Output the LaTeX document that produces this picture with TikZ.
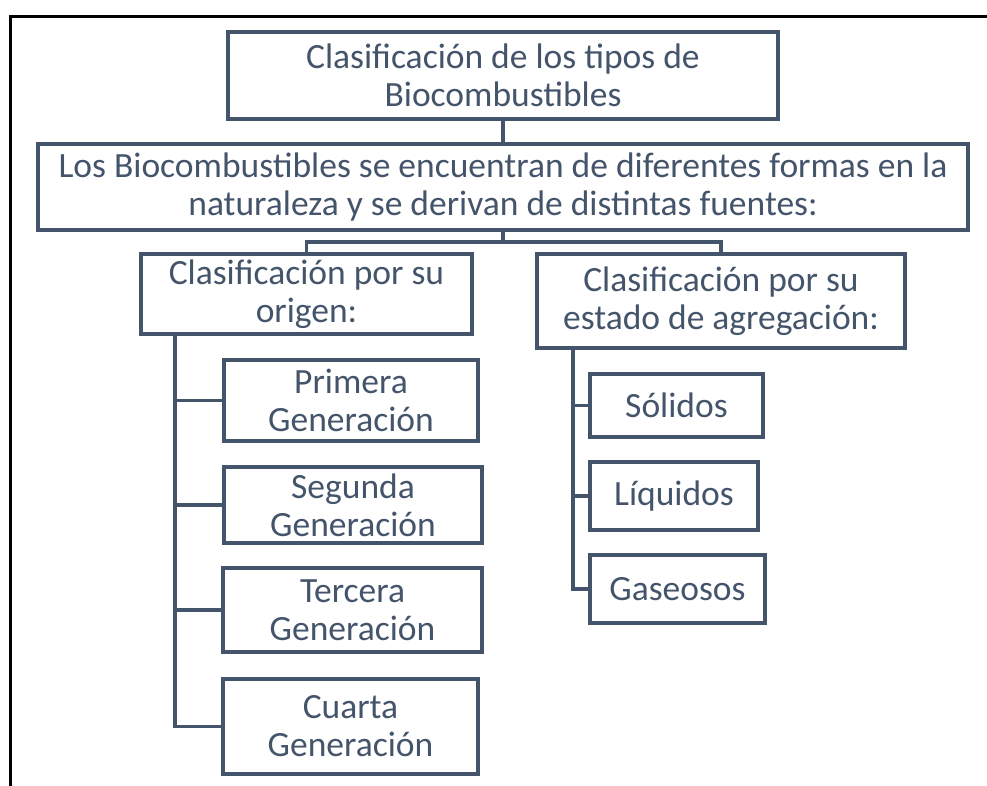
\documentclass[tikz,border=0pt]{standalone}
\usepackage{fontspec}
\setmainfont{Carlito}
\usetikzlibrary{positioning}
\definecolor{slate}{HTML}{44546A}

\begin{document}
\begin{tikzpicture}[
    x=1pt, y=-1pt,
    font=\fontsize{35.5}{38}\selectfont
]
\tikzset{
    mynode/.style = {rectangle, draw=slate, line width=3.2pt, align=center, text=slate, inner sep=0pt},
    linkn/.style = {draw=slate, line width=3.2pt},
    framen/.style = {draw=black, line width=3pt}
}
\useasboundingbox (0,0) rectangle (987,785);
\draw[framen] (10,787) -- (10,16) -- (990,16);
\node[mynode, minimum width=550pt, minimum height=87pt] at (503.0,75.5) (titulo) {Clasificación de los tipos de\\Biocombustibles};
\node[mynode, minimum width=930pt, minimum height=86pt] at (503.0,187.0) (intro) {Los Biocombustibles se encuentran de diferentes formas en la\\naturaleza y se derivan de distintas fuentes:};
\node[mynode, minimum width=331pt, minimum height=80pt] at (306.5,294.0) (origen) {Clasificación por su\\origen:};
\node[mynode, minimum width=368pt, minimum height=94pt] at (721.0,301.0) (estado) {Clasificación por su\\estado de agregación:};
\node[mynode, minimum width=254pt, minimum height=81pt] at (351.0,400.5) (primera) {Primera\\Generación};
\node[mynode, minimum width=258pt, minimum height=76pt] at (353.0,505.0) (segunda) {Segunda\\Generación};
\node[mynode, minimum width=259pt, minimum height=84pt] at (352.5,610.0) (tercera) {Tercera\\Generación};
\node[mynode, minimum width=255pt, minimum height=95pt] at (350.5,726.5) (cuarta) {Cuarta\\Generación};
\node[mynode, minimum width=173pt, minimum height=63pt] at (676.5,405.5) (solidos) {Sólidos};
\node[mynode, minimum width=168pt, minimum height=68pt] at (674.0,496.0) (liquidos) {Líquidos};
\node[mynode, minimum width=175pt, minimum height=68pt] at (677.5,589.0) (gaseosos) {Gaseosos};
\coordinate (bus) at (503,242);
\coordinate (troncoa) at (175,334);
\coordinate (troncob) at (573,348);
\draw[linkn] (titulo) -- (intro);
\draw[linkn] (intro) -- (bus);
\draw[linkn] (origen.north) |- (bus) -| (estado.north);
\draw[linkn] (troncoa) |- (primera.west);
\draw[linkn] (troncoa) |- (segunda.west);
\draw[linkn] (troncoa) |- (tercera.west);
\draw[linkn] (troncoa) |- (cuarta.west);
\draw[linkn] (troncob) |- (solidos.west);
\draw[linkn] (troncob) |- (liquidos.west);
\draw[linkn] (troncob) |- (gaseosos.west);
\end{tikzpicture}
\end{document}
